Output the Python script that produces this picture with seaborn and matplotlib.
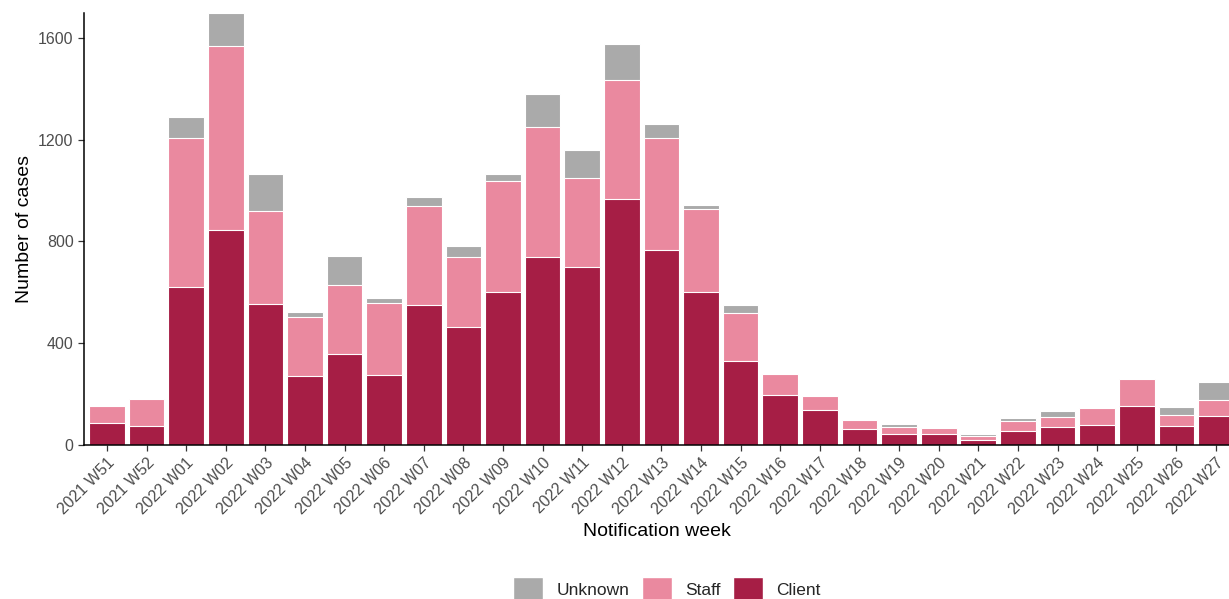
import numpy as np
import pandas as pd
import matplotlib
matplotlib.use("Agg")
import matplotlib.pyplot as plt
from matplotlib.patches import Patch
import seaborn as sns

weeks = ["2021 W51", "2021 W52"] + [f"2022 W{i:02d}" for i in range(1, 28)]

client = [85, 75, 620, 847, 556, 271, 359, 277, 551, 462, 603, 737, 700, 967, 767,
          601, 332, 197, 137, 64, 43, 42, 21, 56, 70, 77, 153, 74, 114]
staff = [70, 106, 585, 723, 362, 233, 270, 280, 387, 275, 436, 511, 349, 469, 438,
         325, 186, 84, 55, 34, 28, 24, 16, 38, 40, 70, 107, 45, 63]
unknown = [0, 0, 84, 128, 149, 20, 112, 20, 36, 46, 26, 132, 110, 142, 57,
           19, 32, 0, 0, 0, 12, 0, 5, 13, 23, 0, 0, 29, 72]

col_client = "#A61E45"
col_staff = "#EA899F"
col_unknown = "#AAAAAA"

df = pd.DataFrame({"week": weeks, "client": client, "staff": staff, "unknown": unknown})
df["top_staff"] = df["client"] + df["staff"]
df["top_unknown"] = df["top_staff"] + df["unknown"]

sns.set_style("ticks")
plt.rcParams["font.family"] = ["Liberation Sans", "DejaVu Sans"]

fig = plt.figure(figsize=(12.29, 5.99), dpi=100)
ax = fig.add_axes([84 / 1229, 154 / 599, 1 - 84 / 1229, (445 - 13) / 599])

# stacked: draw cumulative totals from the top layer down
for col, colour in [("top_unknown", col_unknown), ("top_staff", col_staff), ("client", col_client)]:
    sns.barplot(data=df, x="week", y=col, color=colour, width=0.9,
                edgecolor="white", linewidth=0.8, saturation=1, ax=ax)

ax.set_xlim(-0.58, 28.33)
ax.set_ylim(0, 1698)
ax.set_yticks([0, 400, 800, 1200, 1600])
ax.set_xlabel("Notification week", fontsize=14, color="black", labelpad=4)
ax.set_ylabel("Number of cases", fontsize=14, color="black")
ax.tick_params(axis="both", labelsize=11.5, labelcolor="#4D4D4D", length=4, width=0.9, color="#333333")
for lab in ax.get_xticklabels():
    lab.set_rotation(45)
    lab.set_ha("right")
    lab.set_va("top")
    lab.set_rotation_mode("anchor")
sns.despine(ax=ax)
for s in ["left", "bottom"]:
    ax.spines[s].set_linewidth(1.1)
    ax.spines[s].set_color("black")

handles = [Patch(facecolor=col_unknown, label="Unknown"),
           Patch(facecolor=col_staff, label="Staff"),
           Patch(facecolor=col_client, label="Client")]
fig.legend(handles=handles, loc="center", bbox_to_anchor=(0.5427, 10 / 599),
           ncol=3, frameon=False, fontsize=12.5, handlelength=1.72, handleheight=1.72,
           columnspacing=0.75, handletextpad=0.75, borderpad=0)

fig.savefig("out.png", dpi=100)
